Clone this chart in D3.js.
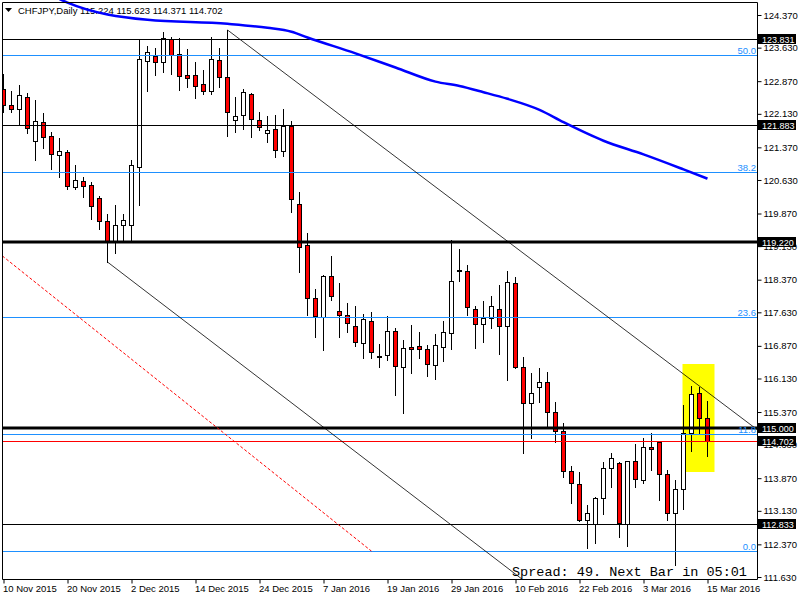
<!DOCTYPE html>
<html>
<head>
<meta charset="utf-8">
<script src="https://cdn.jsdelivr.net/npm/d3@7/dist/d3.min.js"></script>
<style>
body { margin: 0; background: #fff; }
svg { display: block; font-family: "Liberation Sans", Arial, sans-serif; }
</style>
</head>
<body>
<div id="chart"></div>
<script>
var symbol = "CHFJPY,Daily";
var lastQuote = [115.224, 115.623, 114.371, 114.702];

// daily candles, 10 Nov 2015 .. 15 Mar 2016
var opens = [122.69, 122.33, 122.25, 122.50, 121.51, 121.94, 121.62, 121.19, 121.26, 120.46,
    120.61, 120.51, 120.22, 119.69, 119.23, 119.60, 119.61, 120.93, 123.33, 123.44,
    123.31, 123.82, 123.48, 123.01, 123.01, 122.81, 122.65, 123.34, 122.96, 122.00,
    122.10, 122.59, 121.99, 121.69, 121.79, 121.29, 121.86, 120.08, 119.15, 117.95,
    117.53, 118.45, 117.66, 117.58, 117.33, 116.93, 117.43, 116.65, 116.66, 117.20,
    116.38, 116.84, 116.86, 116.79, 116.43, 116.85, 117.15, 118.60, 118.57, 117.71,
    117.36, 117.49, 117.71, 117.33, 118.29, 116.38, 115.57, 115.93, 116.04, 115.36,
    114.93, 114.03, 113.73, 112.92, 112.84, 113.43, 114.09, 114.22, 112.84, 114.25,
    113.84, 114.57, 114.68, 113.96, 113.09, 113.62, 114.89, 115.79, 115.224];
var highs = [123.03, 122.65, 122.78, 122.61, 122.44, 122.14, 121.72, 121.58, 121.32, 120.97,
    120.70, 120.59, 120.27, 119.86, 120.06, 119.86, 121.08, 123.82, 123.67, 123.62,
    123.99, 123.88, 123.84, 123.59, 123.30, 123.12, 123.88, 123.62, 124.03, 122.50,
    122.69, 122.61, 122.16, 122.09, 122.10, 122.23, 121.97, 120.35, 119.42, 118.17,
    118.47, 118.91, 118.29, 117.83, 117.77, 117.59, 117.64, 116.91, 117.55, 117.27,
    117.00, 117.34, 117.19, 116.89, 117.14, 117.44, 119.28, 119.06, 118.70, 117.77,
    117.88, 118.01, 118.24, 118.57, 118.42, 116.62, 116.25, 116.36, 116.28, 115.60,
    115.13, 114.14, 114.00, 113.27, 113.45, 114.23, 114.45, 114.24, 114.26, 114.64,
    114.79, 114.89, 114.69, 114.05, 113.83, 115.53, 115.96, 115.93, 115.623];
var lows = [122.18, 122.18, 121.91, 121.69, 121.08, 121.36, 120.89, 120.70, 120.43, 120.42,
    120.25, 119.74, 119.52, 118.77, 118.98, 119.23, 119.27, 120.06, 122.65, 123.01,
    123.07, 123.03, 122.67, 122.74, 122.49, 122.58, 122.59, 122.74, 121.63, 121.72,
    121.79, 121.60, 121.76, 121.50, 121.14, 121.18, 119.91, 118.55, 117.57, 117.08,
    116.77, 117.92, 117.08, 117.19, 116.87, 116.59, 116.59, 116.38, 116.56, 115.75,
    115.34, 116.25, 116.59, 116.19, 116.11, 116.53, 116.79, 118.35, 117.57, 116.81,
    116.95, 117.28, 116.68, 116.09, 116.37, 114.45, 114.77, 115.60, 115.03, 114.68,
    113.89, 113.30, 112.90, 112.28, 112.39, 113.06, 113.67, 112.53, 112.34, 113.67,
    113.77, 114.05, 113.37, 112.92, 111.90, 113.18, 114.49, 114.90, 114.371];
var closes = [122.33, 122.25, 122.56, 121.80, 121.97, 121.61, 121.21, 121.29, 120.50, 120.63,
    120.49, 120.03, 119.69, 119.23, 119.61, 119.72, 120.97, 123.37, 123.52, 123.31,
    123.84, 123.47, 122.99, 122.95, 122.77, 122.65, 123.37, 122.96, 122.16, 122.07,
    122.62, 122.01, 121.82, 121.76, 121.32, 121.85, 120.19, 119.10, 117.95, 117.55,
    118.45, 118.00, 117.58, 117.38, 116.95, 117.48, 116.72, 116.62, 117.20, 116.41,
    116.81, 116.80, 116.79, 116.46, 116.88, 117.18, 118.35, 118.57, 117.74, 117.36,
    117.51, 117.78, 117.33, 118.31, 116.40, 115.57, 115.79, 116.04, 115.36, 114.93,
    114.03, 113.75, 112.92, 113.07, 113.43, 114.09, 114.33, 112.86, 114.25, 113.85,
    114.57, 114.54, 113.96, 113.09, 113.62, 114.89, 115.78, 115.224, 114.702];

var dateTicks = [0, 8, 16, 24, 32, 40, 48, 56, 64, 72, 80, 88];
var dateLabels = ["10 Nov 2015", "20 Nov 2015", "2 Dec 2015", "14 Dec 2015", "24 Dec 2015", "7 Jan 2016",
    "19 Jan 2016", "29 Jan 2016", "10 Feb 2016", "22 Feb 2016", "3 Mar 2016", "15 Mar 2016"];
var priceTicks = [124.37, 123.63, 122.87, 122.13, 121.37, 120.63, 119.87, 119.13, 118.37,
    117.63, 116.87, 116.13, 115.37, 114.63, 113.87, 113.13, 112.37, 111.63];

var levels = [123.831, 121.883, 119.220, 115.000, 112.833];
var fibLabels = ["0.0", "11.8", "23.6", "38.2", "50.0"];
var fibValues = [112.216, 114.869, 117.521, 120.803, 123.456];
var fibAnchors = [[-109, 134.696], [46, 112.216]];

// 200 day moving average, read at some bars
var maIndex = [7, 8, 18, 28, 33, 36, 38, 44, 49, 54, 57, 60, 63, 67, 70, 75, 80, 85, 88];
var maValues = [124.73, 124.65, 124.26, 124.17, 124.08, 123.99, 123.86, 123.50, 123.18, 122.86,
    122.76, 122.62, 122.47, 122.22, 121.94, 121.52, 121.21, 120.87, 120.66];

var upperTrend = [[28, 124.03], [88, 115.82]];
var lowerTrend = [[13, 118.77], [60, 112.25]];
var boxTimes = [85, 89];
var boxPrices = [116.46, 114.01];
var spreadText = "Spread: 49. Next Bar in 05:01";

var W = 800, H = 600;
var plotLeft = 2.5, plotTop = 2.5, plotRight = 757.5, plotBottom = 579.5;

var svg = d3.select("#chart").append("svg")
    .attr("width", W)
    .attr("height", H);

svg.append("rect").attr("width", W).attr("height", H).attr("fill", "#fff");

svg.append("defs").append("clipPath").attr("id", "plot")
    .append("rect")
    .attr("x", plotLeft).attr("y", plotTop)
    .attr("width", plotRight - plotLeft).attr("height", plotBottom - plotTop);

var x = d3.scaleLinear().domain([0, 88]).range([3.5, 707.5]);
var y = d3.scaleLinear().domain([111.63, 124.37]).range([577, 15]);

function py(v) {
    return Math.round(y(v)) + 0.5;
}

function heavy(d) {
    return d === 119.22 || d === 115;
}

var plot = svg.append("g").attr("clip-path", "url(#plot)");

// yellow box behind the bars
plot.append("rect")
    .attr("x", x(boxTimes[0]) - 1)
    .attr("y", Math.round(y(boxPrices[0])))
    .attr("width", x(boxTimes[1]) - x(boxTimes[0]))
    .attr("height", Math.round(y(boxPrices[1])) - Math.round(y(boxPrices[0])))
    .attr("fill", "#ffff00");

// header
svg.append("path")
    .attr("d", "M5,8L12,8L8.5,12Z")
    .attr("fill", "#000");
svg.append("text")
    .attr("x", 18)
    .attr("y", 14)
    .style("font-size", "9.5px")
    .attr("fill", "#000")
    .text(symbol + "  " + lastQuote.map(function (d) { return d.toFixed(3); }).join(" "));

// candles
var bars = d3.range(opens.length);
var candle = plot.selectAll("g.candle")
    .data(bars)
    .enter()
    .append("g")
    .attr("class", "candle");

candle.append("line")
    .attr("x1", function (i) { return x(i); })
    .attr("x2", function (i) { return x(i); })
    .attr("y1", function (i) { return Math.round(y(highs[i])); })
    .attr("y2", function (i) { return Math.round(y(lows[i])) + 1; })
    .attr("stroke", "#000")
    .attr("stroke-width", 1);

candle.append("rect")
    .attr("x", function (i) { return x(i) - 2; })
    .attr("y", function (i) { return py(Math.max(opens[i], closes[i])); })
    .attr("width", 4)
    .attr("height", function (i) {
        var h = py(Math.min(opens[i], closes[i])) - py(Math.max(opens[i], closes[i]));
        return Math.max(h, 1);
    })
    .attr("fill", function (i) { return closes[i] < opens[i] ? "#ff0000" : "#fff"; })
    .attr("stroke", "#000")
    .attr("stroke-width", 1);

// fibonacci levels
plot.selectAll("line.fib")
    .data(fibValues)
    .enter()
    .append("line")
    .attr("class", "fib")
    .attr("x1", plotLeft).attr("x2", plotRight)
    .attr("y1", py).attr("y2", py)
    .attr("stroke", "#1e90ff")
    .attr("stroke-width", 1);

// horizontal levels
plot.selectAll("line.level")
    .data(levels)
    .enter()
    .append("line")
    .attr("class", "level")
    .attr("x1", plotLeft).attr("x2", plotRight)
    .attr("y1", function (d) { return Math.round(y(d)) + (heavy(d) ? 0 : 0.5); })
    .attr("y2", function (d) { return Math.round(y(d)) + (heavy(d) ? 0 : 0.5); })
    .attr("stroke", "#000")
    .attr("stroke-width", function (d) { return heavy(d) ? 3 : 1; });

// bid line
plot.append("line")
    .attr("x1", plotLeft).attr("x2", plotRight)
    .attr("y1", py(lastQuote[3])).attr("y2", py(lastQuote[3]))
    .attr("stroke", "#ff0000")
    .attr("stroke-width", 1);

// trend lines: upper one runs to the price scale, lower one to the time scale
function extend(pts, toX, toY) {
    var x0 = x(pts[0][0]), y0 = y(pts[0][1]);
    var x1 = x(pts[1][0]), y1 = y(pts[1][1]);
    var k = (y1 - y0) / (x1 - x0);
    if (toX != null) {
        return [[x0, y0], [toX, y0 + k * (toX - x0)]];
    }
    return [[x0, y0], [x0 + (toY - y0) / k, toY]];
}

var line = d3.line();
plot.append("path")
    .attr("d", line(extend(upperTrend, plotRight, null)))
    .attr("fill", "none").attr("stroke", "#000").attr("stroke-width", 0.8);
plot.append("path")
    .attr("d", line(extend(lowerTrend, null, plotBottom)))
    .attr("fill", "none").attr("stroke", "#000").attr("stroke-width", 0.8);

// fibonacci trend line (dotted red)
plot.append("path")
    .attr("d", line(fibAnchors.map(function (d) { return [x(d[0]), y(d[1])]; })))
    .attr("fill", "none")
    .attr("stroke", "#ff0000")
    .attr("stroke-width", 1)
    .attr("stroke-dasharray", "3,2");

// moving average
var maLine = d3.line()
    .x(function (d, i) { return x(maIndex[i]); })
    .y(function (d) { return y(d); })
    .curve(d3.curveMonotoneX);

svg.append("path")
    .attr("d", maLine(maValues))
    .attr("fill", "none")
    .attr("stroke", "#0000ff")
    .attr("stroke-width", 2.5);

// fib labels
svg.selectAll("text.fibLabel")
    .data(fibValues)
    .enter()
    .append("text")
    .attr("class", "fibLabel")
    .attr("x", 756)
    .attr("y", function (d) { return py(d) - 2; })
    .attr("text-anchor", "end")
    .style("font-size", "9.5px")
    .attr("fill", "#1e90ff")
    .text(function (d, i) { return fibLabels[i]; });

// frame
svg.append("path")
    .attr("d", "M" + plotLeft + "," + plotBottom + "V" + plotTop + "H" + plotRight + "V" + plotBottom + "H" + plotLeft)
    .attr("fill", "none")
    .attr("stroke", "#000")
    .attr("stroke-width", 1);

// price axis
var yAxis = d3.axisRight(y)
    .tickValues(priceTicks)
    .tickSize(4)
    .tickPadding(2)
    .tickFormat(d3.format(".3f"));

var gy = svg.append("g")
    .attr("transform", "translate(" + plotRight + ",0)")
    .call(yAxis);
gy.select(".domain").remove();
gy.selectAll("text")
    .style("font-size", "9.5px")
    .style("font-family", "Liberation Sans, Arial, sans-serif")
    .attr("fill", "#000");
gy.selectAll("line").attr("stroke", "#000");

// time axis
var xAxis = d3.axisBottom(x)
    .tickValues(dateTicks)
    .tickSize(4)
    .tickPadding(2)
    .tickFormat(function (d, i) { return dateLabels[i]; });

var gx = svg.append("g")
    .attr("transform", "translate(0," + plotBottom + ")")
    .call(xAxis);
gx.select(".domain").remove();
gx.selectAll("text")
    .attr("text-anchor", "start")
    .attr("x", -1)
    .style("font-size", "9.5px")
    .style("font-family", "Liberation Sans, Arial, sans-serif")
    .attr("fill", "#000");
gx.selectAll("line").attr("stroke", "#000");

// price tags with black background
var tags = levels.concat([lastQuote[3]]);
var tag = svg.selectAll("g.tag")
    .data(tags)
    .enter()
    .append("g")
    .attr("class", "tag");

tag.append("rect")
    .attr("x", 758)
    .attr("y", function (d) { return Math.round(y(d)) - 5; })
    .attr("width", 38)
    .attr("height", 10)
    .attr("fill", "#000");

tag.append("text")
    .attr("x", 762)
    .attr("y", function (d) { return Math.round(y(d)) + 3.5; })
    .style("font-size", "9px")
    .attr("fill", "#fff")
    .text(function (d) { return d.toFixed(3); });

// spread / timer
svg.append("text")
    .attr("x", 512)
    .attr("y", 576)
    .style("font-family", "Liberation Mono, Courier New, monospace")
    .style("font-size", "13.5px")
    .attr("fill", "#000")
    .text(spreadText);
</script>
</body>
</html>
